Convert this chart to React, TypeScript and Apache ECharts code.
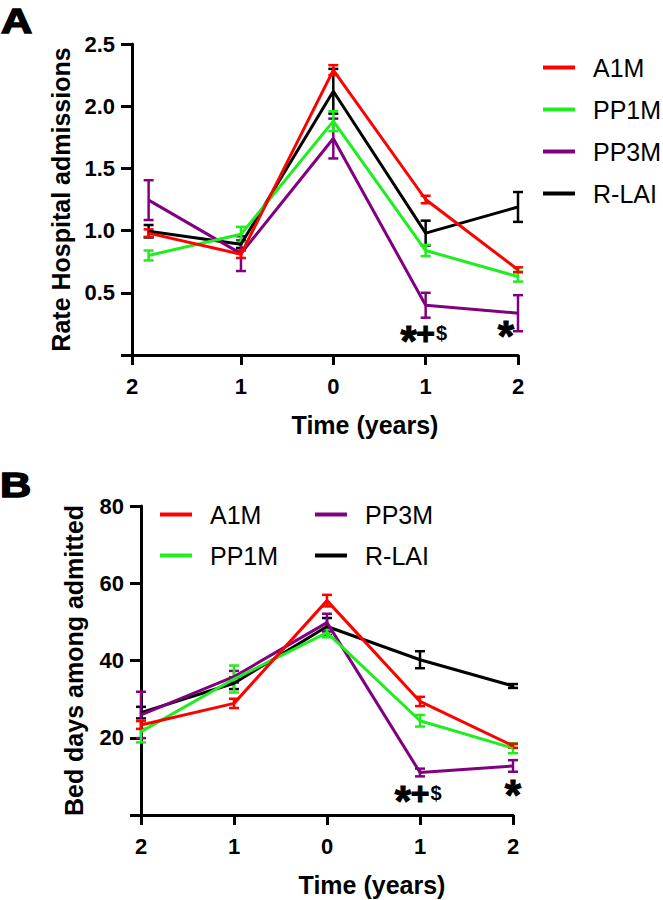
import React, { useEffect, useRef } from 'react';
import * as echarts from 'echarts';

// ---------- data ----------
const times = [-2, -1, 0, 1, 2];
const xTickLabels = ['2', '1', '0', '1', '2'];
const groups = ['A1M', 'PP1M', 'PP3M', 'R-LAI'];

// Panel A: rate of hospital admissions (mean, error)
const rateA1M = [0.98, 0.81, 2.29, 1.25, 0.685];
const rateA1MErr = [0.03, 0.03, 0.04, 0.03, 0.02];
const ratePP1M = [0.8, 0.97, 1.88, 0.84, 0.63];
const ratePP1MErr = [0.04, 0.06, 0.08, 0.045, 0.04];
const ratePP3M = [1.245, 0.815, 1.74, 0.4, 0.336];
const ratePP3MErr = [0.16, 0.14, 0.16, 0.1, 0.145];
const rateRLAI = [0.995, 0.89, 2.12, 0.98, 1.19];
const rateRLAIErr = [0.05, 0.03, 0.18, 0.1, 0.12];

// Panel B: bed days among admitted (mean, error)
const bedA1M = [23.3, 28.9, 55.5, 29.4, 17.9];
const bedA1MErr = [1.0, 1.2, 1.5, 1.2, 0.5];
const bedPP1M = [21.6, 35.2, 47.2, 24.4, 17.3];
const bedPP1MErr = [2.8, 3.5, 1.2, 1.5, 1.3];
const bedPP3M = [25.9, 35.8, 49.8, 11.0, 12.7];
const bedPP3MErr = [6.0, 1.5, 2.3, 1.0, 1.5];
const bedRLAI = [26.5, 34.1, 48.8, 40.2, 33.4];
const bedRLAIErr = [1.5, 1.5, 2.2, 2.2, 0.5];

const annotationsA = [
  { t: 1, v: 0.18, label: '*+$' },
  { t: 2, v: 0.22, label: '*' },
];
const annotationsB = [
  { t: 1, v: 5.8, label: '*+$' },
  { t: 2, v: 7.3, label: '*' },
];

// ---------- styles ----------
const FONT = '"Liberation Sans", Arial, sans-serif';
const COLORS: Record<string, string> = {
  A1M: '#ff0000',
  PP1M: '#1eee1e',
  'PP3M': '#800080',
  'R-LAI': '#000000',
};
const DRAW_ORDER = ['R-LAI', 'PP3M', 'PP1M', 'A1M'];

const panelA: Record<string, [number[], number[]]> = {
  A1M: [rateA1M, rateA1MErr],
  PP1M: [ratePP1M, ratePP1MErr],
  PP3M: [ratePP3M, ratePP3MErr],
  'R-LAI': [rateRLAI, rateRLAIErr],
};
const panelB: Record<string, [number[], number[]]> = {
  A1M: [bedA1M, bedA1MErr],
  PP1M: [bedPP1M, bedPP1MErr],
  PP3M: [bedPP3M, bedPP3MErr],
  'R-LAI': [bedRLAI, bedRLAIErr],
};

function lineSeries(name: string, idx: number, means: number[]) {
  const c = COLORS[name];
  return {
    type: 'line',
    name,
    xAxisIndex: idx,
    yAxisIndex: idx,
    symbol: 'none',
    lineStyle: { color: c, width: 3 },
    itemStyle: { color: c },
    data: times.map((t, i) => [t, means[i]]),
    silent: true,
  };
}

function errorSeries(name: string, idx: number, means: number[], errs: number[]) {
  const c = COLORS[name];
  return {
    type: 'custom',
    name: name + ' err',
    xAxisIndex: idx,
    yAxisIndex: idx,
    silent: true,
    encode: { x: 0, y: 1 },
    data: times.map((t, i) => [t, means[i], errs[i]]),
    renderItem: (_p: any, api: any) => {
      const t = api.value(0);
      const m = api.value(1);
      const e = api.value(2);
      const top = api.coord([t, m + e]);
      const bot = api.coord([t, m - e]);
      const hw = 5;
      const st = { stroke: c, lineWidth: 2.5 };
      return {
        type: 'group',
        children: [
          { type: 'line', shape: { x1: top[0], y1: top[1], x2: bot[0], y2: bot[1] }, style: st },
          { type: 'line', shape: { x1: top[0] - hw, y1: top[1], x2: top[0] + hw, y2: top[1] }, style: st },
          { type: 'line', shape: { x1: bot[0] - hw, y1: bot[1], x2: bot[0] + hw, y2: bot[1] }, style: st },
        ],
      };
    },
  };
}

function symText(ch: string, x: number, y: number) {
  const fs = ch === '*' ? 42 : ch === '+' ? 32 : 20;
  const dy = ch === '*' ? 0.19 * fs : 0;
  return {
    type: 'text',
    x,
    y: y + dy,
    style: {
      text: ch,
      fontSize: fs,
      fontWeight: 'bold',
      fontFamily: FONT,
      fill: '#000',
      stroke: ch === '$' ? undefined : '#000',
      lineWidth: ch === '$' ? 0 : 1,
      align: 'center',
      verticalAlign: 'middle',
    },
  };
}

function annotationSeries(idx: number, ann: { t: number; v: number; label: string }[], starDx: number) {
  return {
    type: 'custom',
    name: 'annot' + idx,
    xAxisIndex: idx,
    yAxisIndex: idx,
    silent: true,
    z: 10,
    encode: { x: 0, y: 1 },
    data: ann.map((a, i) => [a.t, a.v, i]),
    renderItem: (_p: any, api: any) => {
      const p = api.coord([api.value(0), api.value(1)]);
      const a = ann[api.value(2)];
      if (a.label === '*') {
        return { type: 'group', children: [symText('*', p[0] + starDx, p[1])] };
      }
      return {
        type: 'group',
        children: [symText('*', p[0] - 17, p[1]), symText('+', p[0], p[1]), symText('$', p[0] + 16, p[1])],
      };
    },
  };
}

const tickLabelStyle = {
  fontSize: 22,
  fontWeight: 'bold',
  fontFamily: FONT,
  color: '#000',
};
const nameStyle = {
  fontSize: 25,
  fontWeight: 'bold',
  fontFamily: FONT,
  color: '#000',
};
const axisLine = { show: true, onZero: false, lineStyle: { color: '#000', width: 3 } };

const xMinA = -2.18;

function buildOption() {
  const series: any[] = [];
  DRAW_ORDER.forEach((g) => {
    const [m, e] = panelA[g];
    series.push(lineSeries(g, 0, m));
    series.push(errorSeries(g, 0, m, e));
  });
  DRAW_ORDER.forEach((g) => {
    const [m, e] = panelB[g];
    series.push(lineSeries(g, 1, m));
    series.push(errorSeries(g, 1, m, e));
  });
  series.push(annotationSeries(0, annotationsA, -12));
  series.push(annotationSeries(1, annotationsB, 0));

  const ticksA = [xMinA, ...times.slice(1)];
  const legendText = {
    fontSize: 25,
    fontWeight: 'normal',
    fontFamily: FONT,
    color: '#000',
    lineHeight: 25,
    padding: [0, 0, 0, 13],
  };
  const letterStyle = {
    fontSize: 36,
    fontWeight: 'bold',
    fontFamily: FONT,
    fill: '#000',
    stroke: '#000',
    lineWidth: 1.5,
    align: 'left',
    verticalAlign: 'middle',
  };

  return {
    animation: false,
    backgroundColor: '#fff',
    grid: [
      { left: 132, top: 44, width: 386, height: 311 },
      { left: 141, top: 506, width: 372, height: 309 },
    ],
    xAxis: [
      {
        type: 'value',
        gridIndex: 0,
        min: xMinA,
        max: 2,
        axisLine,
        axisTick: { show: true, length: 10, lineStyle: { width: 3, color: '#000' }, customValues: ticksA },
        axisLabel: {
          ...tickLabelStyle,
          margin: 20,
          customValues: ticksA,
          formatter: (v: number) => xTickLabels[times.indexOf(Math.round(v))],
        },
        splitLine: { show: false },
        name: 'Time (years)',
        nameLocation: 'middle',
        nameGap: 57,
        nameTextStyle: { ...nameStyle, padding: [0, 0, 0, 80] },
      },
      {
        type: 'value',
        gridIndex: 1,
        min: -2,
        max: 2,
        interval: 1,
        axisLine,
        axisTick: { show: true, length: 10, lineStyle: { width: 3, color: '#000' } },
        axisLabel: {
          ...tickLabelStyle,
          margin: 20,
          showMinLabel: true,
          showMaxLabel: true,
          formatter: (v: number) => xTickLabels[times.indexOf(Math.round(v))],
        },
        splitLine: { show: false },
        name: 'Time (years)',
        nameLocation: 'middle',
        nameGap: 57,
        nameTextStyle: { ...nameStyle, padding: [0, 0, 0, 90] },
      },
    ],
    yAxis: [
      {
        type: 'value',
        gridIndex: 0,
        min: 0,
        max: 2.5,
        interval: 0.5,
        axisLine,
        axisTick: { show: true, length: 11, lineStyle: { width: 3, color: '#000' } },
        axisLabel: {
          ...tickLabelStyle,
          margin: 17,
          formatter: (v: number) => (v === 0 ? '' : v.toFixed(1)),
        },
        splitLine: { show: false },
        name: 'Rate Hospital admissions',
        nameLocation: 'middle',
        nameGap: 58,
        nameTextStyle: nameStyle,
      },
      {
        type: 'value',
        gridIndex: 1,
        min: 0,
        max: 80,
        interval: 20,
        axisLine,
        axisTick: { show: true, length: 11, lineStyle: { width: 3, color: '#000' } },
        axisLabel: {
          ...tickLabelStyle,
          margin: 17,
          formatter: (v: number) => (v === 0 ? '' : String(v)),
        },
        splitLine: { show: false },
        name: 'Bed days among admitted',
        nameLocation: 'middle',
        nameGap: 55,
        nameTextStyle: nameStyle,
      },
    ],
    legend: [
      {
        data: groups,
        orient: 'vertical',
        left: 543,
        top: 55,
        padding: 0,
        itemWidth: 32,
        itemHeight: 4,
        itemGap: 17,
        icon: 'rect',
        selectedMode: false,
        textStyle: legendText,
      },
      {
        data: groups.slice(0, 2),
        orient: 'vertical',
        left: 160,
        top: 502,
        padding: 0,
        itemWidth: 32,
        itemHeight: 4,
        itemGap: 16,
        icon: 'rect',
        selectedMode: false,
        textStyle: legendText,
      },
      {
        data: groups.slice(2, 4),
        orient: 'vertical',
        left: 315,
        top: 502,
        padding: 0,
        itemWidth: 32,
        itemHeight: 4,
        itemGap: 16,
        icon: 'rect',
        selectedMode: false,
        textStyle: legendText,
      },
    ],
    graphic: [
      {
        type: 'text',
        x: 1,
        y: 20,
        scaleX: 1.2,
        style: { ...letterStyle, text: 'A' },
      },
      {
        type: 'text',
        x: 0,
        y: 484,
        scaleX: 1.2,
        style: { ...letterStyle, text: 'B' },
      },
    ],
    series,
  };
}

export default function App() {
  const ref = useRef<HTMLDivElement>(null);
  useEffect(() => {
    if (!ref.current) return;
    const chart = echarts.init(ref.current, undefined, { renderer: 'svg' });
    chart.setOption(buildOption() as any);
    return () => chart.dispose();
  }, []);
  return (
    <div
      ref={ref}
      style={{ position: 'absolute', left: 0, top: 0, width: 663, height: 900, background: '#fff' }}
    />
  );
}
